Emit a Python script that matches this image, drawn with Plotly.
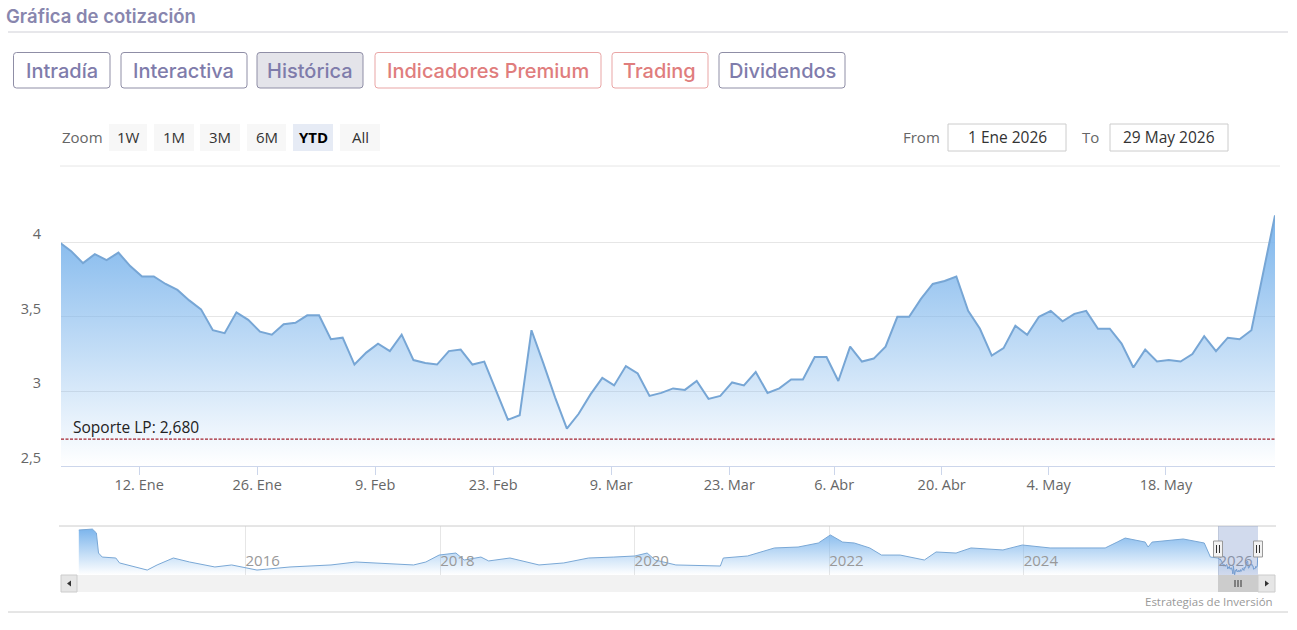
import plotly.graph_objects as go
import pandas as pd
import numpy as np

W, H = 1297, 630
K = 1.0   # vertical factor between target pixels and layout pixels

# ---------------- data ----------------
holidays = ["2026-01-01", "2026-04-03", "2026-04-06", "2026-05-01"]
trade_dates = [d for d in pd.bdate_range("2025-12-31", "2026-05-29")
               if d.strftime("%Y-%m-%d") not in holidays]

prices = [
    4.00,
    3.94, 3.86, 3.92, 3.88, 3.93, 3.84, 3.77, 3.77, 3.72, 3.68,
    3.61, 3.55, 3.41, 3.39, 3.53, 3.48, 3.40, 3.38, 3.45, 3.46,
    3.51, 3.51, 3.35, 3.36, 3.18, 3.26, 3.32, 3.27, 3.38, 3.21,
    3.19, 3.18, 3.27, 3.28, 3.18, 3.20, 3.01, 2.81, 2.84, 3.41,
    3.19, 2.96, 2.75, 2.85, 2.98, 3.09, 3.04, 3.17, 3.12, 2.97,
    2.99, 3.02, 3.01, 3.07, 2.95, 2.97, 3.06, 3.04, 3.13, 2.99,
    3.02, 3.08, 3.08, 3.23, 3.23, 3.07, 3.30, 3.20, 3.22, 3.30,
    3.50, 3.50, 3.62, 3.72, 3.74, 3.77, 3.54, 3.42, 3.24, 3.29,
    3.44, 3.38, 3.50, 3.54, 3.47, 3.52, 3.54, 3.42, 3.42, 3.32,
    3.16, 3.28, 3.20, 3.21, 3.20, 3.25, 3.37, 3.27, 3.36, 3.35,
    3.41, 3.80, 4.18,
]

tick_dates = ["2026-01-12", "2026-01-26", "2026-02-09", "2026-02-23", "2026-03-09",
              "2026-03-23", "2026-04-06", "2026-04-20", "2026-05-04", "2026-05-18"]
tick_labels = ["12. Ene", "26. Ene", "9. Feb", "23. Feb", "9. Mar",
               "23. Mar", "6. Abr", "20. Abr", "4. May", "18. May"]
y_ticks = [2.5, 3, 3.5, 4]
y_tick_labels = ["2,5", "3", "3,5", "4"]

support_level = 2.68
support_label = "Soporte LP: 2,680"

nav_dates = [
    "2014-04-15", "2014-06-05", "2014-06-20", "2014-06-28", "2014-07-12", "2014-09-01",
    "2014-09-15", "2014-11-15", "2014-12-28", "2015-02-03", "2015-03-03", "2015-04-05",
    "2015-06-05", "2015-09-08", "2015-11-10", "2016-01-10", "2016-02-13", "2016-06-16",
    "2016-11-17", "2017-02-18", "2017-09-23", "2017-11-08", "2017-12-28", "2018-03-01",
    "2018-04-01", "2018-06-03", "2018-07-02", "2018-09-20", "2019-01-07", "2019-04-10",
    "2019-07-12", "2019-10-15", "2020-01-02", "2020-02-17", "2020-03-18", "2020-06-04",
    "2020-11-18", "2020-11-29", "2021-02-28", "2021-06-09", "2021-09-06", "2021-11-21",
    "2022-01-05", "2022-02-20", "2022-04-05", "2022-06-02", "2022-07-16", "2022-09-24",
    "2022-12-24", "2023-02-06", "2023-04-22", "2023-06-17", "2023-10-15", "2023-12-27",
    "2024-04-09", "2024-07-08", "2024-11-02", "2024-12-17", "2025-01-16", "2025-04-01",
    "2025-04-12", "2025-04-27", "2025-08-22", "2025-11-09", "2025-12-02",
]
nav_values = [
    6.09, 6.16, 5.87, 4.37, 4.07, 4.00,
    3.63, 3.33, 3.10, 3.48, 3.70, 4.00,
    3.70, 3.33, 3.48, 3.25, 3.10, 3.33,
    3.48, 3.70, 3.48, 3.70, 4.22, 4.37,
    3.85, 4.07, 3.78, 4.00, 3.48, 3.63,
    4.00, 4.07, 4.15, 4.37, 3.85, 3.48,
    3.40, 4.00, 4.15, 4.75, 4.82, 5.12,
    5.72, 5.19, 5.12, 4.75, 4.22, 4.22,
    3.85, 4.45, 4.37, 4.75, 4.60, 4.97,
    4.75, 4.75, 4.75, 5.19, 5.49, 5.19,
    4.82, 5.19, 5.42, 5.12, 4.07,
]

top_buttons = ["Intradía", "Interactiva", "Histórica", "Indicadores Premium", "Trading", "Dividendos"]
range_buttons = ["1W", "1M", "3M", "6M", "YTD", "All"]

# ------------- ordinal (trading-day) positions like Highcharts Stock -------------
pos = np.arange(len(trade_dates), dtype=float)
pt_ns = (pd.DatetimeIndex(trade_dates) + pd.Timedelta(hours=17, minutes=30)).asi8.astype(float)
tick_pos = np.interp(pd.DatetimeIndex(tick_dates).asi8.astype(float), pt_ns, pos)
x_left = float(np.interp(pd.Timestamp("2026-01-01").value, pt_ns, pos))
x_right = float(pos[-1])


def X(p):
    return p / W


def Y(p):
    return 1 - p / (K * H)


fig = go.Figure()

blue = "124,181,236"
fig.add_trace(go.Scatter(
    x=pos, y=prices, mode="lines", fill="tozeroy",
    line=dict(color="#77a6d5", width=2),
    fillgradient=dict(type="vertical",
                      colorscale=[[0, f"rgba({blue},0)"], [1, f"rgba({blue},1)"]],
                      start=2.5, stop=max(prices)),
    xaxis="x", yaxis="y", hoverinfo="skip",
))

nav_x = list(pd.to_datetime(nav_dates)) + list(trade_dates)
nav_y = nav_values + prices
fig.add_trace(go.Scatter(
    x=nav_x, y=nav_y, mode="lines", fill="tozeroy",
    line=dict(color="#7aa8d6", width=1),
    fillgradient=dict(type="vertical",
                      colorscale=[[0, f"rgba({blue},0)"], [1, f"rgba({blue},1)"]],
                      start=min(nav_y), stop=max(nav_y)),
    xaxis="x2", yaxis="y2", hoverinfo="skip",
))

font_chart = "Open Sans"
font_ui = "Inter"

shapes = []
ann = []


def rrect(x0, y0, x1, y1, r, fill, line, lw=1):
    path = (f"M{X(x0 + r)},{Y(y0)} L{X(x1 - r)},{Y(y0)} Q{X(x1)},{Y(y0)} {X(x1)},{Y(y0 + r)} "
            f"L{X(x1)},{Y(y1 - r)} Q{X(x1)},{Y(y1)} {X(x1 - r)},{Y(y1)} "
            f"L{X(x0 + r)},{Y(y1)} Q{X(x0)},{Y(y1)} {X(x0)},{Y(y1 - r)} "
            f"L{X(x0)},{Y(y0 + r)} Q{X(x0)},{Y(y0)} {X(x0 + r)},{Y(y0)} Z")
    shapes.append(dict(type="path", xref="paper", yref="paper", path=path,
                       fillcolor=fill, line=dict(color=line, width=lw), layer="above"))


def rect(x0, y0, x1, y1, fill, line=None, lw=1):
    shapes.append(dict(type="rect", xref="paper", yref="paper",
                       x0=X(x0), x1=X(x1), y0=Y(y1), y1=Y(y0), fillcolor=fill,
                       line=dict(color=line if line else "rgba(0,0,0,0)", width=lw if line else 0),
                       layer="above"))


def hline(x0, x1, y, color, w=1):
    shapes.append(dict(type="line", xref="paper", yref="paper",
                       x0=X(x0), x1=X(x1), y0=Y(y), y1=Y(y), line=dict(color=color, width=w)))


def vline(x, y0, y1, color, w=1):
    shapes.append(dict(type="line", xref="paper", yref="paper",
                       x0=X(x), x1=X(x), y0=Y(y0), y1=Y(y1), line=dict(color=color, width=w)))


def text(x, y, s, size, color, xanchor="center", family=font_chart, weight=None):
    f = dict(size=size, color=color, family=family)
    if weight:
        f["weight"] = weight
    ann.append(dict(x=X(x), y=Y(y), xref="paper", yref="paper", text=s, showarrow=False,
                    xanchor=xanchor, yanchor="middle", font=f))


# ---- header ----
text(4, 16, "Gráfica de cotización", 18.5, "#8886ae", "left", font_ui, 600)
hline(8, 1288, 32, "#cfcfd6")

purple_t, purple_b = "#7f7cab", "#8f8ea6"
red_t, red_b = "#e07d7d", "#e9a5a5"
btn_x = [(13.5, 110), (121, 247), (257, 363), (375, 601), (612, 708), (719, 845)]
for (x0, x1), label in zip(btn_x, top_buttons):
    is_red = label in ("Indicadores Premium", "Trading")
    fill = "#e4e4ea" if label == "Histórica" else "white"
    rrect(x0, 52.5, x1, 88, 3, fill, red_b if is_red else purple_b)
    text((x0 + x1) / 2, 70.5, label, 20, red_t if is_red else purple_t, "center", font_ui, 500)

# ---- range selector ----
text(60, 137, "Zoom", 15, "#666666", "left")
rb_x = [(109, 147), (154, 194), (200, 240), (247, 286), (293, 333), (340, 380)]
for (x0, x1), label in zip(rb_x, range_buttons):
    sel = label == "YTD"
    rect(x0, 124, x1, 151, "#e6ebf5" if sel else "#f7f7f7")
    text((x0 + x1) / 2, 136.5, f"<b>{label}</b>" if sel else label, 15,
         "#000000" if sel else "#333333")

text(901, 136.5, "From", 15, "#666666", "left")
rect(948, 124, 1066, 151, "white", "#cccccc")
text(1007, 136.5, "1 Ene 2026", 15.5, "#333333")
text(1080, 136.5, "To", 15, "#666666", "left")
rect(1110, 124, 1228, 151, "white", "#cccccc")
text(1169, 136.5, "29 May 2026", 15.5, "#333333")
hline(60, 1280, 166, "#e6e6e6")

# ---- support line ----
shapes.append(dict(type="line", xref="paper", yref="y", x0=X(61), x1=X(1275),
                   y0=support_level, y1=support_level,
                   line=dict(color="#a3232f", width=1.3, dash="3px,1.5px")))
ann.append(dict(x=X(71), y=support_level, xref="paper", yref="y", text=support_label,
                showarrow=False, xanchor="left", yanchor="bottom", yshift=-1,
                font=dict(size=15.5, color="#222222", family=font_chart)))

# ---- navigator ----
hline(59, 1276, 526, "#cccccc")
rect(61, 575, 1275, 592, "#f2f2f2")
rect(61, 575, 77, 592, "#e6e6e6", "#cccccc")
rect(1258, 575, 1275, 592, "#e6e6e6", "#cccccc")
shapes.append(dict(type="path", xref="paper", yref="paper",
                   path=f"M{X(67)},{Y(583.5)} L{X(71)},{Y(580.5)} L{X(71)},{Y(586.5)} Z",
                   fillcolor="#333333", line=dict(width=0)))
shapes.append(dict(type="path", xref="paper", yref="paper",
                   path=f"M{X(1269)},{Y(583.5)} L{X(1265)},{Y(580.5)} L{X(1265)},{Y(586.5)} Z",
                   fillcolor="#333333", line=dict(width=0)))
rect(1218, 575, 1258, 592, "#cccccc")
for gx in (1235, 1238, 1241):
    vline(gx, 580, 587, "#333333")
rect(1218, 526, 1258, 575, "rgba(102,133,194,0.3)")
for hx in (1218, 1258):
    rect(hx - 4.5, 541, hx + 4.5, 557, "#f2f2f2", "#999999")
    vline(hx - 1.5, 545, 553, "#333333")
    vline(hx + 1.5, 545, 553, "#333333")

# ---- credits & bottom line ----
text(1275, 601, "Estrategias de Inversión", 11.5, "#999999", "right")
hline(8, 1288, 612, "#cccccc")

fig.update_layout(
    width=W, height=H, autosize=False, margin=dict(l=0, r=0, t=0, b=0, pad=0),
    paper_bgcolor="white", plot_bgcolor="white",
    showlegend=False, hovermode=False, separators=",.",
    shapes=shapes, annotations=ann,
    font=dict(family=font_chart),
    xaxis=dict(domain=[X(61), X(1275)], range=[x_left, x_right], tickmode="array",
               tickvals=tick_pos, ticktext=tick_labels, showgrid=False, zeroline=False,
               showline=True, linecolor="#ccd6eb", linewidth=1, ticks="outside",
               ticklen=8, tickcolor="#ccd6eb", tickfont=dict(size=14.5, color="#666666"),
               ticklabelstandoff=-2, fixedrange=True),
    yaxis=dict(domain=[Y(466), Y(205)], range=[2.5, 2.5 + 261 / 149.2], tickmode="array",
               tickvals=y_ticks, ticktext=y_tick_labels, showgrid=True,
               gridcolor="#e6e6e6", zeroline=False, showline=False, ticks="",
               tickfont=dict(size=14.5, color="#666666"), ticklabelshift=-8,
               ticklabelstandoff=19, fixedrange=True),
    xaxis2=dict(domain=[X(78), X(1258)], range=["2014-04-12", "2026-05-29 17:30"],
                type="date", anchor="y2", tick0="2016-01-01", dtick="M24",
                tickformat="%Y", showgrid=True, gridcolor="#e6e6e6", zeroline=False,
                showline=False, ticks="", ticklabelposition="inside right",
                tickfont=dict(size=15, color="#999999"), fixedrange=True),
    yaxis2=dict(domain=[Y(575), Y(526)], range=[2.73, 6.39], anchor="x2",
                showgrid=False, zeroline=False, showticklabels=False, fixedrange=True),
)

fig.write_html("out.html", config={"responsive": False})
